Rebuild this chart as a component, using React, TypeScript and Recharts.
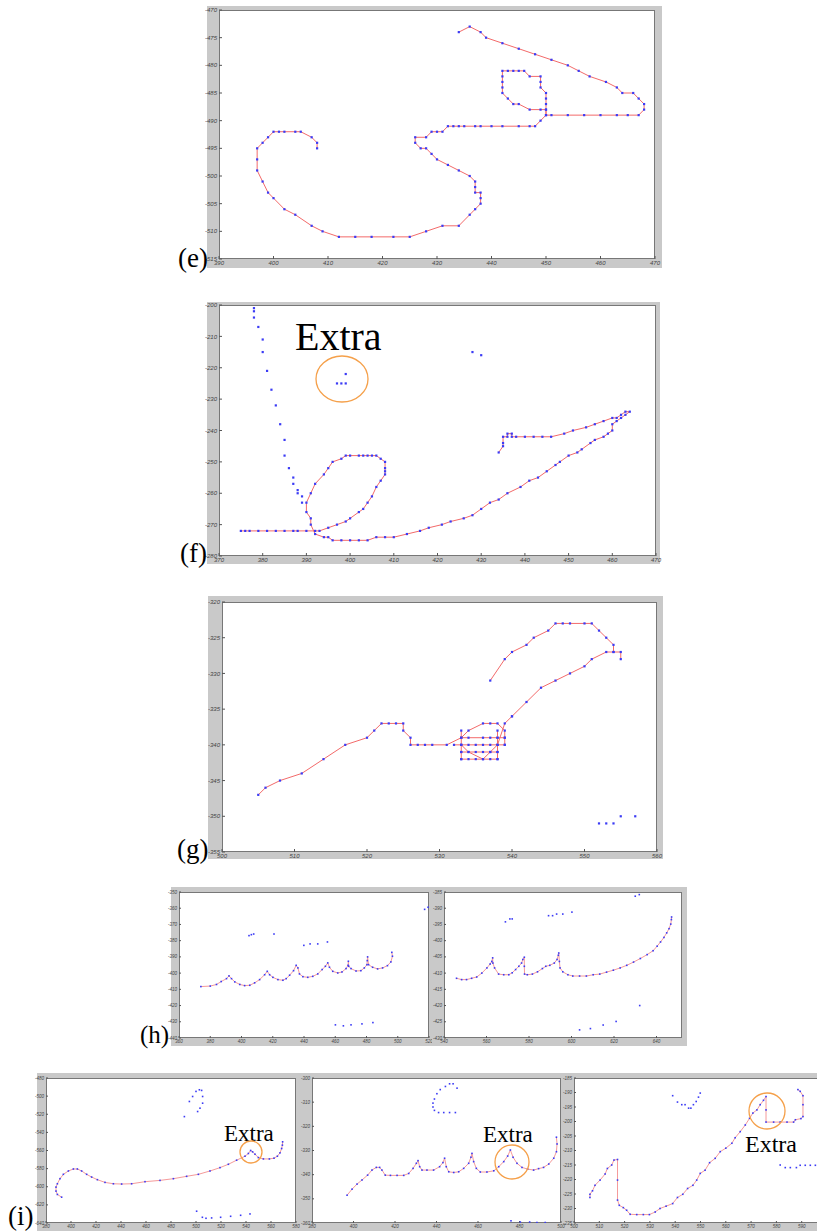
import { Scatter, ScatterChart, XAxis, YAxis } from "recharts";

type P = [number, number];

const RED = "#f36a6a";
const PINK = "#f59a9a";
const BLUE = "#3b3bf5";
const GRAY = "#c9c9c9";
const ORANGE = "#f5a04a";

// ----- (e)
const eTicksX = [390, 400, 410, 420, 430, 440, 450, 460, 470];
const eTicksY = [-515, -510, -505, -500, -495, -490, -485, -480, -475, -470];
const eStroke: P[] = [
  [408, -495], [408, -494], [407, -493], [405, -492], [404, -492], [402, -492], [401, -492], [400, -492],
  [399, -493], [398, -494], [397, -495], [397, -497], [397, -499], [398, -501], [399, -503], [400, -504],
  [402, -506], [404, -507], [407, -509], [409, -510], [412, -511], [415, -511], [418, -511], [422, -511],
  [425, -511], [428, -510], [431, -509], [434, -509], [436, -507], [437, -506], [438, -505], [438, -504],
  [438, -503], [437, -503], [437, -502], [437, -501], [436, -500], [434, -499], [432, -498], [430, -497],
  [429, -496], [428, -495], [427, -495], [426, -494], [426, -493], [428, -493], [429, -492], [430, -492],
  [431, -492], [432, -491], [433, -491], [434, -491], [435, -491], [437, -491], [438, -491], [440, -491],
  [442, -491], [445, -491], [447, -491], [448, -491], [449, -490], [450, -489], [450, -488], [449, -488],
  [447, -488], [445, -487], [444, -487], [443, -486], [442, -485], [442, -484], [442, -483], [442, -482],
  [442, -481], [443, -481], [444, -481], [445, -481], [446, -481], [447, -482], [449, -482], [449, -483],
  [449, -484], [450, -485], [450, -486], [450, -487], [450, -488], [450, -489], [451, -489], [454, -489],
  [457, -489], [460, -489], [463, -489], [465, -489], [467, -489], [468, -488], [468, -487], [467, -486],
  [466, -485], [464, -485], [463, -484], [461, -483], [458, -482], [456, -481], [454, -480], [451, -479],
  [448, -478], [445, -477], [442, -476], [439, -475], [438, -474], [436, -473], [434, -474],
];

// ----- (f)
const fTicksX = [370, 380, 390, 400, 410, 420, 430, 440, 450, 460, 470];
const fTicksY = [-280, -270, -260, -250, -240, -230, -220, -210, -200];
const fStroke: P[] = [
  [375, -272], [376, -272], [377, -272], [379, -272], [381, -272], [383, -272], [385, -272], [387, -272],
  [388, -272], [390, -272], [392, -272], [393, -272], [395, -271], [397, -270], [399, -269], [400, -268],
  [402, -266], [403, -265], [404, -263], [405, -261], [406, -258], [407, -256], [408, -254], [408, -253],
  [408, -252], [408, -250], [407, -249], [406, -248], [405, -248], [404, -248], [403, -248], [402, -248],
  [400, -248], [399, -248], [398, -249], [396, -250], [395, -252], [394, -254], [392, -257], [391, -260],
  [390, -263], [390, -266], [391, -268], [391, -270], [392, -273], [394, -274], [395, -274], [396, -275],
  [398, -275], [400, -275], [402, -275], [404, -275], [406, -274], [408, -274], [410, -274], [413, -273],
  [416, -272], [418, -271], [421, -270], [423, -269], [426, -268], [428, -267], [430, -265], [432, -263],
  [434, -262], [436, -260], [439, -258], [441, -256], [443, -255], [445, -253], [447, -251], [448, -250],
  [450, -248], [452, -247], [453, -246], [455, -244], [456, -243], [458, -242], [459, -241], [460, -240],
  [460, -238], [461, -237], [462, -236], [463, -235], [464, -234], [463, -234], [462, -235], [461, -236],
  [460, -236], [458, -237], [456, -238], [454, -239], [451, -240], [449, -241], [446, -242], [444, -242],
  [442, -242], [440, -242], [438, -242], [437, -242], [437, -241], [436, -241], [436, -242], [435, -242],
  [435, -244], [435, -245], [434, -247],
];
const fLooseLeft: P[] = [
  [378, -201], [378, -202], [378, -204], [379, -207], [380, -211], [380, -215], [381, -221], [382, -227],
  [383, -232], [384, -238], [385, -243], [385, -248], [386, -252], [387, -255], [387, -257], [388, -259],
  [388, -260], [389, -261], [389, -263],
];
const fExtra: P[] = [[397, -225], [398, -225], [399, -225], [399, -222]];
const fLooseMid: P[] = [[428, -215], [430, -216]];

// ----- (g)
const gTicksX = [500, 510, 520, 530, 540, 550, 560];
const gTicksY = [-355, -350, -345, -340, -335, -330, -325, -320];
const gStrokeIn: P[] = [
  [505, -347], [506, -346], [508, -345], [511, -344], [514, -342], [517, -340], [520, -339], [521, -338],
  [522, -337], [523, -337], [524, -337], [525, -337], [525, -338], [526, -339], [526, -340], [527, -340],
  [528, -340], [529, -340], [531, -340], [533, -339], [534, -338], [536, -337], [537, -337], [538, -337],
  [539, -338], [539, -339], [539, -340],
];
const gRow339: P[] = [[533, -339], [534, -339], [536, -339], [537, -339], [538, -339], [539, -339]];
const gRow340: P[] = [[532, -340], [533, -340], [534, -340], [535, -340], [536, -340], [537, -340], [538, -340], [539, -340]];
const gRow341: P[] = [[533, -341], [534, -341], [535, -341], [536, -341], [537, -341], [538, -341]];
const gRow342: P[] = [[533, -342], [534, -342], [535, -342], [536, -342], [537, -342], [538, -342]];
const gColLeft: P[] = [[533, -338], [533, -339], [533, -340], [533, -341], [533, -342]];
const gColRight: P[] = [[538, -338], [538, -339], [538, -340], [538, -341], [538, -342]];
const gDiag: P[] = [[533, -340], [534, -341], [536, -342], [537, -341], [538, -340], [539, -337], [540, -336]];
const gStrokeOut: P[] = [
  [540, -336], [542, -334], [544, -332], [546, -331], [548, -330], [550, -329], [551, -328], [553, -327],
  [554, -327], [555, -327], [555, -328],
];
const gStrokeTop: P[] = [
  [537, -331], [539, -328], [540, -327], [542, -326], [543, -325], [545, -324], [546, -323], [547, -323],
  [548, -323], [550, -323], [551, -323], [552, -324], [553, -325], [554, -326], [554, -327],
];
const gLoose: P[] = [[552, -351], [553, -351], [554, -351], [555, -350], [557, -350]];

// ----- (h) left
const h1TicksX = [360, 380, 400, 420, 440, 460, 480, 500, 520];
const h1TicksY = [-440, -430, -420, -410, -400, -390, -380, -370, -360, -350];
const h1Stroke: P[] = [
  [374, -408.3], [380, -408], [384, -407], [387, -405.2], [390.4, -403.4], [392, -401.7], [393.6, -403.4],
  [395.7, -405.4], [398.9, -407], [402, -407.7], [405.3, -407.5], [408.4, -406], [411.6, -404], [414.8, -401],
  [416.5, -398.9], [418, -401], [420.1, -402.6], [423.3, -404], [426.5, -404.4], [428.6, -403.4],
  [430.8, -401.3], [433.3, -398.5], [435, -395.2], [436.1, -396.8], [437.1, -400.5], [439.3, -402.2],
  [442.4, -402.6], [445.6, -402], [448.8, -400.5], [451.6, -397.8], [453.7, -395.8], [455.2, -393.7],
  [456.3, -396.4], [458.4, -398.9], [461.6, -399.9], [464.3, -399.3], [466.9, -397.2], [468.2, -395.2],
  [468.4, -392.7], [468.6, -395.8], [470.1, -397.2], [473.3, -398.7], [476.4, -398.5], [478.6, -396.8],
  [480.3, -394.8], [480.5, -392.3], [480.7, -390], [481.3, -394.8], [483.9, -396.4], [487.1, -397.4],
  [490.3, -396.8], [493.4, -395.4], [495.6, -393.1], [496.6, -389.6], [496.2, -387.2],
];
const h1Loose: P[] = [
  [404.8, -376.9], [406.3, -376.3], [407.8, -375.9], [420.8, -375.9], [439.9, -382.9], [443.9, -382],
  [448.8, -382], [455, -380.8], [460.1, -431.9], [465.2, -432.5], [470.1, -431.9], [477.1, -431.3],
  [484.1, -430.5], [517.2, -360.7], [519.4, -359.4],
];

// ----- (h) right
const h2TicksX = [540, 560, 580, 600, 620, 640];
const h2TicksY = [-430, -425, -420, -415, -410, -405, -400, -395, -390, -385];
const h2Stroke: P[] = [
  [545.9, -411.6], [548.3, -412], [550.6, -412], [553, -411.6], [555.4, -411.2], [557.8, -410],
  [560.2, -408.4], [561.7, -407.2], [562.5, -406.4], [562.9, -405.3], [563, -406.9], [563.8, -408.4],
  [565.7, -410.3], [568.1, -410.5], [570.5, -410.5], [572.1, -409.9], [573.7, -408.9], [575.2, -407.9],
  [576.5, -406.9], [577.1, -405.8], [577.8, -405.1], [577.8, -407.9], [577.9, -410.3], [579.2, -410.5],
  [581.6, -410.3], [584, -409.6], [586.3, -408.6], [587.9, -407.9], [589.8, -407.6], [591.9, -406.9],
  [593.2, -405.8], [593.8, -404.5], [594, -403.8], [594.3, -406.4], [594.6, -408.4], [595.9, -409.6],
  [598.3, -410.5], [600.6, -410.9], [603.8, -410.9], [607, -410.9], [610.2, -410.5], [613.3, -410.3],
  [616.5, -409.7], [619.7, -409.1], [622.9, -408.4], [626, -407.6], [629.2, -406.6], [632.4, -405.5],
  [635.6, -404.3], [638.4, -403.1], [640.3, -401.7], [641.9, -400.4], [643.5, -399], [644.8, -397.6],
  [645.9, -396.3], [646.7, -394.9], [647, -393.5], [647.1, -392.7],
];
const h2Loose: P[] = [
  [568.9, -394.2], [571, -393.3], [572.1, -393.3], [589.2, -392.3], [591.1, -392.3], [593, -391.8],
  [595.9, -391.8], [600.2, -391.2], [630, -386.3], [631.9, -385.8], [632.1, -420], [603.8, -427.5],
  [608.9, -427.1], [614.9, -426], [621, -424.9],
];

// ----- (i) first
const i1TicksX = [380, 400, 420, 440, 460, 480, 500, 520, 540, 560, 580];
const i1TicksY = [-640, -620, -600, -580, -560, -540, -520, -500, -480];
const i1Stroke: P[] = [
  [392.5, -611.5], [389.1, -608.5], [388, -604.8], [388, -600.4], [389.1, -596.7], [391.2, -591.1],
  [393.9, -586.3], [397.9, -582.6], [401.9, -580.4], [405.1, -580.4], [408.5, -582.6], [412.5, -586.3],
  [416.5, -589.3], [421.1, -592.2], [427.2, -595.2], [433.9, -596.7], [440.5, -597], [448.5, -596.7],
  [459.2, -594.4], [471.2, -593], [481.9, -591.1], [492.5, -588.5], [501.9, -586.3], [511.2, -582.6],
  [519.2, -578.9], [525.9, -575.2], [532.5, -570.7], [539.2, -566.3], [541.9, -563.3], [543.7, -560],
  [545.3, -561.5], [547.2, -564.1], [549.9, -567.8], [553.9, -569.3], [558.7, -569.3], [562.4, -568.5],
  [565.1, -566.3], [567.2, -562.6], [568.5, -557.8], [569.1, -554.1], [569.3, -550.4],
];
const i1Loose: P[] = [
  [490.7, -522.6], [494.7, -505.9], [497.3, -500.4], [500, -494.8], [502.7, -493], [504.5, -493.7],
  [505.3, -500.4], [505.3, -507.8], [503.2, -513.3], [501.3, -517], [500.5, -627], [505.1, -633.7],
  [508, -634.8], [512.5, -634.4], [519.7, -633.7], [527.7, -632.6], [535.7, -631.5], [543.2, -630],
];

// ----- (i) second
const i2TicksX = [380, 400, 420, 440, 460, 480, 500];
const i2TicksY = [-360, -350, -340, -330, -320, -310, -300];
const i2Stroke: P[] = [
  [396.9, -348.5], [399.3, -346], [401.7, -343.9], [404.1, -342.2], [406.8, -340.2], [408.9, -338.1],
  [411, -337], [412.6, -337], [413.7, -338.1], [415.3, -340.2], [417.8, -340.3], [421, -340.3],
  [424.2, -340.3], [426.6, -339.5], [428.7, -337.4], [430.3, -335.3], [431.1, -334.2], [431.9, -336.7],
  [433, -338.1], [435.4, -338.1], [438.6, -338.1], [441.5, -336.7], [443.1, -335], [443.9, -333.2],
  [444.7, -336.7], [445.9, -338.8], [448.3, -339.1], [450.7, -338.8], [453.1, -337.4], [455.5, -335.3],
  [456.6, -332.8], [457.1, -331.2], [457.9, -334.6], [459.2, -337.4], [461.1, -338.9], [464.3, -338.9],
  [467.6, -338.4], [470, -336.7], [472.4, -334.6], [474.3, -332.3], [475.6, -329.8], [476.9, -332.8],
  [478.8, -335.3], [481.2, -337], [483.9, -337.7], [486.8, -338.1], [489.2, -337.5], [491.6, -337],
  [494.1, -335.6], [496.5, -333.2], [497.8, -330.5], [498.1, -327.3], [497.8, -324.5],
];
const i2Loose: P[] = [
  [449.9, -304.2], [448, -302.4], [446.3, -302.4], [444.3, -303.5], [441.8, -304.8], [440.2, -306.5],
  [439, -308.7], [438.3, -310.4], [438.3, -312], [439, -313.4], [441, -314.3], [443.5, -314.3],
  [446.3, -314.3], [449.1, -314.3], [475.9, -359.1], [480.4, -359.6], [484.9, -359.6], [488.4, -359.8],
  [492.4, -359.8],
];

// ----- (i) third
const i3TicksX = [500, 510, 520, 530, 540, 550, 560, 570, 580, 590, 600];
const i3TicksY = [-235, -230, -225, -220, -215, -210, -205, -200, -195, -190, -185];
const i3Stroke: P[] = [
  [506.3, -226.2], [506.3, -225.1], [507.3, -223.9], [508.3, -222], [510.3, -220.2], [512.3, -218.1],
  [513.2, -216.2], [514.9, -215], [515.8, -213.3], [517.2, -213.1], [517.2, -220.2], [517.2, -227.1],
  [517.9, -228.9], [519.5, -229.7], [520.8, -230.6], [522.2, -232], [524.8, -232.1], [527.4, -232.1],
  [529.8, -232.1], [532.1, -231.2], [534, -230], [536.4, -229.2], [539, -228.3], [540.9, -226.2],
  [543, -225.1], [544.9, -223.1], [547, -222], [548.5, -220.2], [549.9, -217.9], [551.8, -216.8],
  [553.6, -214.2], [555.8, -212.7], [557.8, -210.4], [560, -209.2], [562.4, -207.5], [563.7, -205.6],
  [565.7, -203.5], [567.7, -201.2], [569.4, -198.9], [570.7, -197.1], [572.3, -196], [573.6, -194.2],
  [574.9, -192.7], [575.9, -191.4], [575.9, -196], [575.9, -200.2], [578.9, -200.2], [581.5, -200.2],
  [584.2, -200.2], [586.8, -200.2], [587.5, -199.4], [589.7, -199], [590.5, -198.3], [590.5, -194.2],
  [590.5, -191.1], [589.4, -189.6], [588.5, -189],
];
const i3Loose: P[] = [
  [539, -191.1], [540.9, -193.3], [542.6, -194.2], [543.9, -194.2], [545.3, -195.4], [546.2, -195.4],
  [547.2, -194.2], [548.3, -193.1], [549.2, -191.6], [549.9, -190.2], [581.5, -215], [583.5, -215.9],
  [585.5, -215.9], [587.9, -215.9], [589.4, -215.1], [591.4, -215.1], [593.4, -215.1], [595.4, -215.1],
  [597.1, -215.1],
];

type Series = { pts: P[]; line: boolean };
type Box = [number, number, number, number];

type PanelProps = {
  frame: Box;
  plot: Box;
  xDomain: [number, number];
  xTicks: number[];
  yDomain: [number, number];
  yTicks: number[];
  series: Series[];
  font: number;
  small?: boolean;
};

const PAD = 24;

function Panel({ frame, plot, xDomain, xTicks, yDomain, yTicks, series, font, small }: PanelProps) {
  const [fx, fy, fw, fh] = frame;
  const [px, py, pw, ph] = plot;
  // chart is PAD wider on every side so tick labels are not cut off;
  // axes are 1px thick (recharts skips zero-size axes), so the margin gives that pixel back
  const margin = {
    left: px - fx - 1 + PAD,
    top: py - fy - 1 + PAD,
    right: fx + fw - px - pw - 1 + PAD,
    bottom: fy + fh - py - ph - 1 + PAD,
  };
  const tickStyle = { fontSize: font, fill: "#444", fontFamily: "Arial, 'Liberation Sans', sans-serif", fontStyle: "italic" };
  const size = small ? 1.6 : 2.2;
  const dot = (props: any) => (
    <rect x={props.cx - size / 2} y={props.cy - size / 2} width={size} height={size} fill={BLUE} />
  );
  const tl = small ? -2 : -3;
  return (
    <>
      <div style={{ position: "absolute", left: fx, top: fy, width: fw, height: fh, background: GRAY }}>
        <div
          style={{
            position: "absolute", left: px - fx, top: py - fy, width: pw, height: ph,
            background: "#fff", boxSizing: "border-box", border: "1px solid #777",
          }}
        />
      </div>
      <div style={{ position: "absolute", left: fx - PAD, top: fy - PAD }}>
        <ScatterChart width={fw + 2 * PAD} height={fh + 2 * PAD} margin={margin}>
          <XAxis xAxisId="b" type="number" dataKey="x" domain={xDomain} ticks={xTicks} allowDataOverflow
            height={1} tickSize={tl} tickMargin={-tl + 2} axisLine={false} tick={tickStyle} stroke="#555" interval={0} />
          <XAxis xAxisId="t" orientation="top" type="number" dataKey="x" domain={xDomain} ticks={xTicks} allowDataOverflow
            height={1} tickSize={tl} axisLine={false} tick={false} stroke="#555" interval={0} />
          <YAxis yAxisId="l" type="number" dataKey="y" domain={yDomain} ticks={yTicks} allowDataOverflow
            width={1} tickSize={tl} tickMargin={-tl + 2} axisLine={false} tick={tickStyle} stroke="#555" interval={0} />
          <YAxis yAxisId="r" orientation="right" type="number" dataKey="y" domain={yDomain} ticks={yTicks} allowDataOverflow
            width={1} tickSize={tl} axisLine={false} tick={false} stroke="#555" interval={0} />
          {series.map((s, i) => (
            <Scatter
              key={i}
              xAxisId="b"
              yAxisId="l"
              data={s.pts.map(([x, y]) => ({ x, y }))}
              line={s.line ? { stroke: small ? PINK : RED, strokeWidth: 1 } : false}
              shape={dot}
              isAnimationActive={false}
            />
          ))}
        </ScatterChart>
      </div>
    </>
  );
}

const serif = "'Liberation Serif', 'Times New Roman', serif";

export default function App() {
  return (
    <div style={{ position: "absolute", left: 0, top: 0, width: 817, height: 1231, overflow: "hidden", background: "#fff" }}>
      <Panel frame={[207, 6, 455, 262]} plot={[219, 10, 436, 249]} xDomain={[390, 470]} xTicks={eTicksX}
        yDomain={[-515, -470]} yTicks={eTicksY} font={6}
        series={[{ pts: eStroke, line: true }]} />
      <Panel frame={[207, 302, 453, 262]} plot={[219, 305, 437, 251]} xDomain={[370, 470]} xTicks={fTicksX}
        yDomain={[-280, -200]} yTicks={fTicksY} font={6}
        series={[
          { pts: fStroke, line: true },
          { pts: fLooseLeft, line: false },
          { pts: fExtra, line: false },
          { pts: fLooseMid, line: false },
        ]} />
      <Panel frame={[208, 596, 455, 263]} plot={[222, 602, 435, 250]} xDomain={[500, 560]} xTicks={gTicksX}
        yDomain={[-355, -320]} yTicks={gTicksY} font={6}
        series={[
          { pts: gStrokeIn, line: true },
          { pts: gRow339, line: true },
          { pts: gRow340, line: true },
          { pts: gRow341, line: true },
          { pts: gRow342, line: true },
          { pts: gColLeft, line: true },
          { pts: gColRight, line: true },
          { pts: gDiag, line: true },
          { pts: gStrokeOut, line: true },
          { pts: gStrokeTop, line: true },
          { pts: gLoose, line: false },
        ]} />
      <Panel frame={[171, 887, 261, 159]} plot={[179, 892, 250, 146]} xDomain={[360, 520]} xTicks={h1TicksX}
        yDomain={[-440, -350]} yTicks={h1TicksY} font={4.5} small
        series={[{ pts: h1Stroke, line: true }, { pts: h1Loose, line: false }]} />
      <Panel frame={[432, 887, 255, 159]} plot={[444, 892, 238, 146]} xDomain={[540, 652]} xTicks={h2TicksX}
        yDomain={[-430, -385]} yTicks={h2TicksY} font={4.5} small
        series={[{ pts: h2Stroke, line: true }, { pts: h2Loose, line: false }]} />
      <Panel frame={[37, 1073, 263, 158]} plot={[46, 1078, 250, 145]} xDomain={[380, 580]} xTicks={i1TicksX}
        yDomain={[-640, -480]} yTicks={i1TicksY} font={4.5} small
        series={[{ pts: i1Stroke, line: true }, { pts: i1Loose, line: false }]} />
      <Panel frame={[300, 1073, 267, 158]} plot={[312, 1078, 249, 145]} xDomain={[380, 500]} xTicks={i2TicksX}
        yDomain={[-360, -300]} yTicks={i2TicksY} font={4.5} small
        series={[{ pts: i2Stroke, line: true }, { pts: i2Loose, line: false }]} />
      <Panel frame={[567, 1073, 270, 158]} plot={[574, 1078, 253, 145]} xDomain={[500, 600]} xTicks={i3TicksX}
        yDomain={[-235, -185]} yTicks={i3TicksY} font={4.5} small
        series={[{ pts: i3Stroke, line: true }, { pts: i3Loose, line: false }]} />

      <svg width={817} height={1231} style={{ position: "absolute", left: 0, top: 0, pointerEvents: "none" }}>
        <g fontFamily={serif} fill="#000">
          <text x={178} y={267} fontSize={27}>(e)</text>
          <text x={180} y={562} fontSize={27}>(f)</text>
          <text x={177} y={858} fontSize={27}>(g)</text>
          <text x={140} y={1043} fontSize={25}>(h)</text>
          <text x={8} y={1225} fontSize={27}>(i)</text>
          <text x={295} y={350} fontSize={40}>Extra</text>
          <text x={224} y={1141} fontSize={23}>Extra</text>
          <text x={483} y={1142} fontSize={23}>Extra</text>
          <text x={745} y={1152} fontSize={24}>Extra</text>
        </g>
        <g fill="none" stroke={ORANGE} strokeWidth={1.3}>
          <ellipse cx={342} cy={379} rx={26} ry={23} />
          <circle cx={251} cy={1152} r={11} />
          <circle cx={512} cy={1162} r={17} />
          <circle cx={767} cy={1111} r={18} />
        </g>
      </svg>
    </div>
  );
}
